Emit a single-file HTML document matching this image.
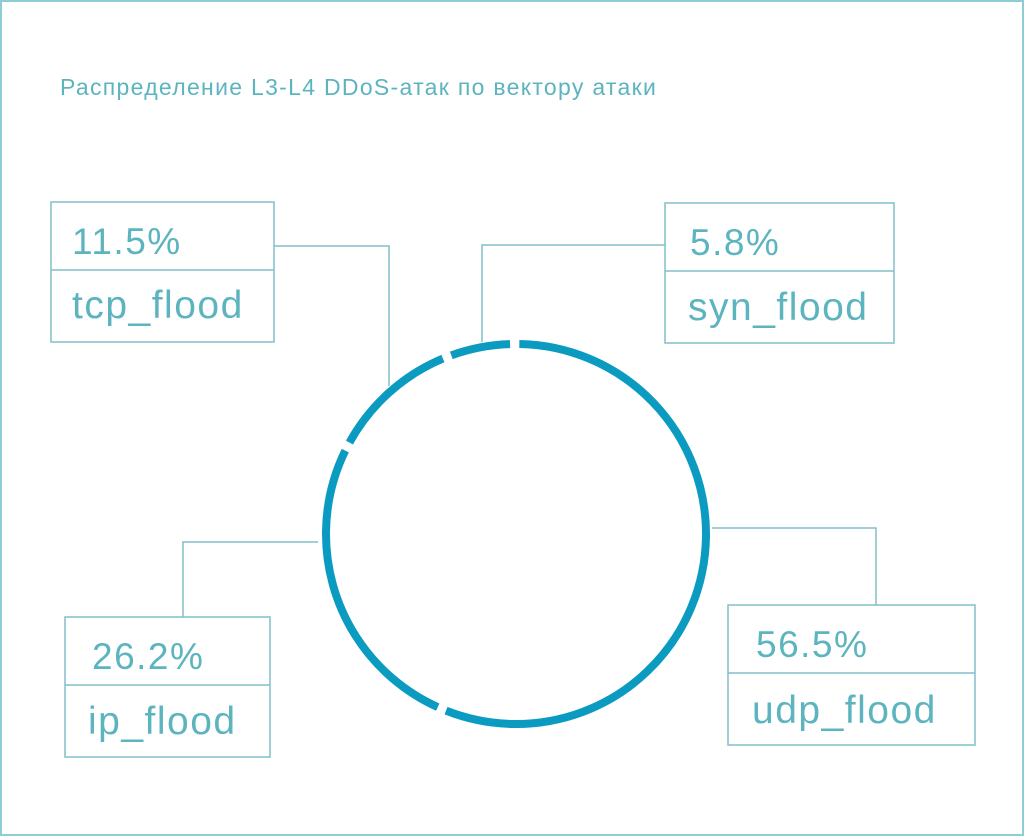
<!DOCTYPE html>
<html><head><meta charset="utf-8"><style>
html,body{margin:0;padding:0;background:#fff}
svg{display:block}
text{font-family:"Liberation Sans",sans-serif;fill:#5cb4bf}
</style></head><body>
<svg width="1024" height="836" viewBox="0 0 1024 836">
<rect x="1" y="1" width="1022" height="834" fill="#fff" stroke="#8fcdd4" stroke-width="2"/>
<text x="60" y="95" font-size="23" letter-spacing="1.3" fill="#3fa9b6">Распределение L3-L4 DDoS-атак по вектору атаки</text>
<g fill="none" stroke="#80c0c7" stroke-width="1.5">
<rect x="51" y="202" width="223" height="140"/><line x1="51" y1="270" x2="274" y2="270"/>
<polyline points="274,246 389,246 389,386"/>
<rect x="665" y="203" width="229" height="140"/><line x1="665" y1="271" x2="894" y2="271"/>
<polyline points="665,245 482,245 482,342"/>
<rect x="728" y="605" width="247" height="140"/><line x1="728" y1="673" x2="975" y2="673"/>
<polyline points="712,528 876,528 876,605"/>
<rect x="65" y="617" width="205" height="140"/><line x1="65" y1="685" x2="270" y2="685"/>
<polyline points="183,617 183,542 318,542"/>
</g>
<text x="72" y="254" font-size="37" letter-spacing="1.5">11.5%</text>
<text x="72" y="318" font-size="39" letter-spacing="1.5">tcp_flood</text>
<text x="690" y="255" font-size="37" letter-spacing="1.5">5.8%</text>
<text x="688" y="320" font-size="39" letter-spacing="1.5">syn_flood</text>
<text x="756" y="657" font-size="37" letter-spacing="1.5">56.5%</text>
<text x="752" y="723" font-size="39" letter-spacing="1.5">udp_flood</text>
<text x="92" y="669" font-size="37" letter-spacing="1.5">26.2%</text>
<text x="88" y="734" font-size="39" letter-spacing="1.5">ip_flood</text>
<g transform="rotate(-89 516 534)">
<circle cx="516" cy="534" r="190" fill="none" stroke="#0b9bc0" stroke-width="8"
 stroke-dasharray="665 9 304 9 128 9 60 10"/>
</g>
</svg>
</body></html>
